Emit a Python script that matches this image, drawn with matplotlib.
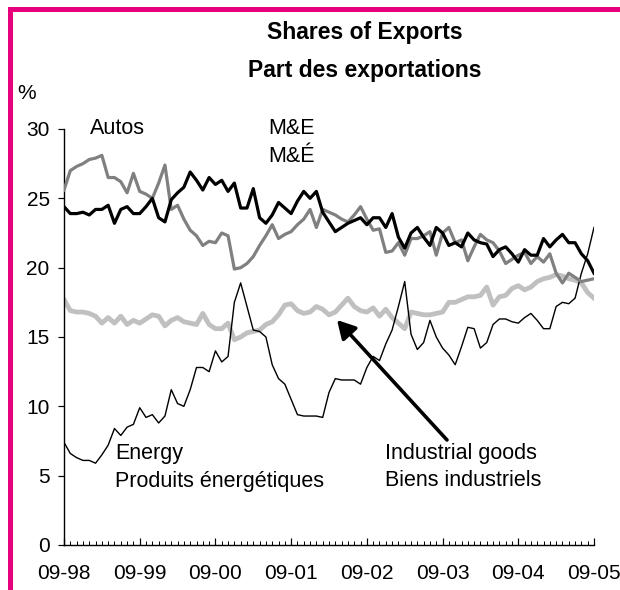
import numpy as np
import matplotlib
matplotlib.use("Agg")
import matplotlib.pyplot as plt
from matplotlib.patches import Rectangle, FancyArrowPatch
from matplotlib.ticker import FixedLocator, MultipleLocator

plt.rcParams['font.family'] = ['Liberation Sans', 'DejaVu Sans']

# Monthly data, 09-98 .. 09-05 (85 months)
autos = [25.6, 27.0, 27.3, 27.5, 27.8, 27.9, 28.1, 26.5, 26.5, 26.2,
         25.4, 26.8, 25.5, 25.3, 25.0, 26.1, 27.4, 24.2, 24.5, 23.5,
         22.7, 22.3, 21.6, 21.9, 21.8, 22.5, 22.3, 19.9, 20.0, 20.3,
         20.8, 21.6, 22.3, 23.1, 22.1, 22.4, 22.6, 23.1, 23.5, 24.2,
         22.9, 24.2, 24.0, 23.8, 23.5, 23.3, 23.8, 24.4, 23.5, 22.7,
         22.8, 21.1, 21.2, 21.8, 20.9, 22.1, 22.1, 22.3, 22.6, 20.9,
         22.5, 22.9, 21.8, 22.0, 20.5, 21.5, 22.4, 22.0, 21.8, 21.2,
         20.3, 20.6, 20.9, 21.1, 20.3, 20.8, 20.4, 21.0, 19.6, 18.9,
         19.6, 19.3, 19.0, 19.1, 19.2]

mne = [24.4, 23.9, 23.9, 24.0, 23.8, 24.2, 24.2, 24.5, 23.2, 24.2,
       24.4, 23.9, 23.9, 24.4, 25.0, 23.6, 23.3, 24.9, 25.4, 25.8,
       26.9, 26.3, 25.6, 26.5, 26.0, 26.3, 25.5, 26.1, 24.3, 24.3,
       25.7, 23.6, 23.2, 23.8, 24.7, 24.3, 23.9, 24.8, 25.5, 25.0,
       25.5, 24.0, 23.3, 22.6, 22.9, 23.2, 23.4, 23.6, 23.1, 23.6,
       23.6, 22.9, 23.9, 22.2, 21.4, 22.5, 22.9, 22.2, 21.6, 22.9,
       22.5, 21.6, 21.8, 21.5, 22.5, 22.0, 21.8, 21.7, 20.8, 21.3,
       21.5, 21.0, 20.4, 21.3, 20.9, 20.9, 22.1, 21.5, 22.0, 22.4,
       21.8, 21.8, 21.0, 20.5, 19.6]

industrial = [17.7, 16.9, 16.8, 16.8, 16.7, 16.5, 16.0, 16.4, 16.0, 16.5,
              15.9, 16.2, 16.0, 16.3, 16.6, 16.5, 15.8, 16.2, 16.4, 16.1,
              16.0, 15.9, 16.7, 15.9, 15.6, 15.6, 16.0, 14.8, 15.0, 15.3,
              15.4, 15.5, 15.9, 16.1, 16.6, 17.3, 17.4, 16.9, 16.7, 16.8,
              17.2, 17.0, 16.6, 16.8, 17.3, 17.8, 17.2, 16.9, 16.8, 17.1,
              16.5, 17.0, 16.4, 16.0, 15.6, 16.8, 16.7, 16.6, 16.6, 16.7,
              16.8, 17.5, 17.5, 17.7, 17.9, 17.9, 18.0, 18.6, 17.3, 17.9,
              18.0, 18.5, 18.7, 18.4, 18.6, 19.0, 19.2, 19.3, 19.5, 19.4,
              19.2, 19.1, 18.9, 18.2, 17.8]

energy = [7.4, 6.6, 6.3, 6.1, 6.1, 5.9, 6.5, 7.2, 8.4, 7.9,
          8.5, 8.7, 9.9, 9.2, 9.4, 8.8, 9.3, 11.2, 10.2, 10.0,
          11.2, 12.8, 12.8, 12.5, 14.0, 13.2, 13.6, 17.5, 18.9, 17.2,
          15.5, 15.4, 15.0, 13.0, 12.0, 11.6, 10.5, 9.4, 9.3, 9.3,
          9.3, 9.2, 11.0, 12.0, 11.9, 11.9, 11.9, 11.6, 12.8, 13.6,
          13.3, 14.5, 15.5, 17.2, 19.0, 15.2, 14.1, 14.6, 16.2, 15.0,
          14.2, 13.7, 13.0, 14.3, 15.7, 15.6, 14.2, 14.6, 15.9, 16.3,
          16.3, 16.1, 16.0, 16.4, 16.7, 16.2, 15.6, 15.6, 17.2, 17.5,
          17.4, 17.8, 19.6, 21.0, 22.9]

year_labels = ['09-98', '09-99', '09-00', '09-01', '09-02', '09-03', '09-04', '09-05']
y_ticks = [0, 5, 10, 15, 20, 25, 30]

months = np.arange(len(autos))

W, H = 620, 590
fig = plt.figure(figsize=(W / 100, H / 100), dpi=100)
fig.patch.set_facecolor('white')

ax_l, ax_r, ax_b, ax_t = 64, 594, 545, 129
ax = fig.add_axes([ax_l / W, 1 - ax_b / H, (ax_r - ax_l) / W, (ax_b - ax_t) / H])

px = 0.72  # points per pixel
ax.plot(months, industrial, color='#c0c0c0', lw=4.8 * px, zorder=2)
ax.plot(months, energy, color='black', lw=1.4 * px, zorder=3)
ax.plot(months, autos, color='#808080', lw=3.2 * px, zorder=4)
ax.plot(months, mne, color='black', lw=3.2 * px, zorder=5)

ax.set_xlim(0, len(autos) - 1)
ax.set_ylim(0, 30)

for s in ['top', 'right']:
    ax.spines[s].set_visible(False)
for s in ['left', 'bottom']:
    ax.spines[s].set_linewidth(1.4 * px)

ax.set_yticks(y_ticks)
ax.set_yticklabels([str(v) for v in y_ticks])
ax.tick_params(axis='y', direction='out', length=6 * px, width=1.2 * px, pad=6, labelsize=15)

major = list(range(0, len(autos), 12))
ax.xaxis.set_major_locator(FixedLocator(major))
ax.xaxis.set_minor_locator(MultipleLocator(1))
ax.set_xticklabels(year_labels)
ax.tick_params(axis='x', which='major', direction='in', length=7 * px, width=1.2 * px, pad=14, labelsize=15)
ax.tick_params(axis='x', which='minor', direction='in', length=4 * px, width=1.0 * px)
# keep the last label inside the canvas
ax.get_xticklabels()[-1].set_horizontalalignment('center')

# Text annotations
def figtext(x, y, s, **kw):
    fig.text(x / W, 1 - y / H, s, **kw)

figtext(365, 33, 'Shares of Exports', ha='center', va='center', fontsize=16.5, fontweight='bold')
figtext(365, 70, 'Part des exportations', ha='center', va='center', fontsize=16.5, fontweight='bold')
figtext(17, 93, '%', ha='left', va='center', fontsize=15)

figtext(90, 128, 'Autos', ha='left', va='center', fontsize=15.5)
figtext(268, 128, 'M&E', ha='left', va='center', fontsize=15.5)
figtext(268, 156, 'M&É', ha='left', va='center', fontsize=15.5)
figtext(115, 453, 'Energy', ha='left', va='center', fontsize=15.5)
figtext(115, 481, 'Produits énergétiques', ha='left', va='center', fontsize=15.5)
figtext(385, 453, 'Industrial goods', ha='left', va='center', fontsize=15.5)
figtext(385, 481, 'Biens industriels', ha='left', va='center', fontsize=15.5)

arrow = FancyArrowPatch((447 / W, 1 - 440 / H), (337 / W, 1 - 320 / H),
                        transform=fig.transFigure, arrowstyle='-|>,head_length=9,head_width=5',
                        mutation_scale=1.2, color='black', lw=3.6 * px, shrinkA=0, shrinkB=0)
fig.add_artist(arrow)

# Pink frame (top and left visible)
frame = Rectangle((9.5 / W, -0.2), 1.5, (590 - 8.5) / H + 0.2, transform=fig.transFigure,
                  fill=False, edgecolor='#e6007e', linewidth=5 * px, clip_on=False)
fig.add_artist(frame)

fig.savefig('out.png', dpi=100, facecolor='white')
